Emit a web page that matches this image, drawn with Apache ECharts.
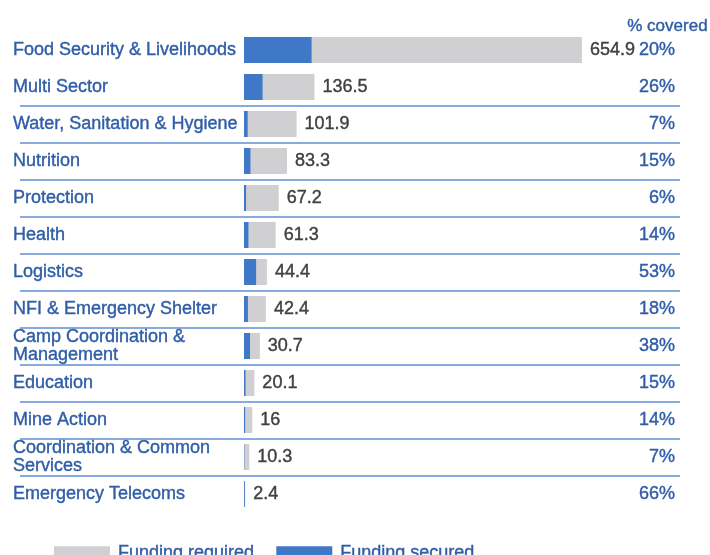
<!DOCTYPE html>
<html>
<head>
<meta charset="utf-8">
<script src="https://cdn.jsdelivr.net/npm/echarts@6/dist/echarts.min.js"></script>
<style>
  html, body { margin: 0; padding: 0; background: #fff; }
  #chart { width: 710px; height: 555px; }
</style>
</head>
<body>
<div id="chart"></div>
<script>
// data
const sectors = [
  "Food Security & Livelihoods",
  "Multi Sector",
  "Water, Sanitation & Hygiene",
  "Nutrition",
  "Protection",
  "Health",
  "Logistics",
  "NFI & Emergency Shelter",
  "Camp Coordination &\nManagement",
  "Education",
  "Mine Action",
  "Coordination & Common\nServices",
  "Emergency Telecoms"
];
const fundingRequired = [654.9, 136.5, 101.9, 83.3, 67.2, 61.3, 44.4, 42.4, 30.7, 20.1, 16, 10.3, 2.4];
const fundingSecured = [131, 36, 7.1, 12.5, 4, 8.6, 23.5, 7.6, 11.7, 3, 2.2, 0.7, 1.6];
const pctCovered = ["20%", "26%", "7%", "15%", "6%", "14%", "53%", "18%", "38%", "15%", "14%", "7%", "66%"];

const chart = echarts.init(document.getElementById("chart"));

const font = "'Liberation Sans', Arial, sans-serif";
const labelBlue = "#2f5da8";
const grey = "#d0d0d2";
const blue = "#4078c8";
const lineBlue = "#5f8fd2";
const none = "rgba(0,0,0,0)";

// separators: none above first row, none between first two rows, none at bottom
const sepColors = [none, none];
for (let i = 2; i < sectors.length; i++) sepColors.push(lineBlue);
sepColors.push(none);

// slightly heavier text, like the original render
const heavy = (c) => ({ textBorderColor: c, textBorderWidth: 0.4 });

const option = {
  textStyle: { fontFamily: font },
  title: {
    text: "% covered",
    right: -3,
    top: 13,
    textStyle: { fontFamily: font, fontSize: 17, fontWeight: "normal", color: labelBlue, ...heavy(labelBlue) }
  },
  legend: {
    data: ["Funding required", "Funding secured"],
    left: 49,
    top: 539,
    itemWidth: 56,
    itemHeight: 14,
    itemGap: 22,
    icon: "rect",
    textStyle: { fontFamily: font, fontSize: 18, color: labelBlue, padding: [0, 0, 0, 3], ...heavy(labelBlue) }
  },
  grid: [
    { left: 244, right: 30, top: 31.5, bottom: 42.5 },
    { left: 20, right: 30, top: 31.5, bottom: 42.5 }
  ],
  xAxis: [
    { type: "value", gridIndex: 0, min: 0, max: 845, show: false },
    { type: "value", gridIndex: 1, min: 0, max: 1, show: false }
  ],
  yAxis: [
    {
      type: "category",
      gridIndex: 0,
      data: sectors,
      inverse: true,
      axisLine: { show: false },
      axisTick: { show: false },
      splitLine: { show: false },
      axisLabel: {
        align: "left",
        margin: 231,
        fontFamily: font,
        fontSize: 18,
        lineHeight: 18,
        color: labelBlue,
        ...heavy(labelBlue)
      }
    },
    {
      type: "category",
      gridIndex: 1,
      data: sectors,
      inverse: true,
      axisLine: { show: false },
      axisTick: { show: false },
      axisLabel: { show: false },
      splitLine: { show: true, lineStyle: { color: sepColors, width: 1.5 } }
    },
    {
      type: "category",
      gridIndex: 1,
      position: "right",
      data: pctCovered,
      inverse: true,
      axisLine: { show: false },
      axisTick: { show: false },
      splitLine: { show: false },
      axisLabel: {
        inside: true,
        align: "right",
        margin: 5,
        fontFamily: font,
        fontSize: 18,
        color: labelBlue,
        ...heavy(labelBlue)
      }
    }
  ],
  series: [
    {
      name: "Funding required",
      type: "bar",
      xAxisIndex: 0,
      yAxisIndex: 0,
      data: fundingRequired,
      barWidth: 26,
      itemStyle: { color: grey },
      label: {
        show: true,
        position: "right",
        distance: 8,
        fontFamily: font,
        fontSize: 18,
        color: "#404040",
        ...heavy("#404040")
      }
    },
    {
      name: "Funding secured",
      type: "bar",
      xAxisIndex: 0,
      yAxisIndex: 0,
      data: fundingSecured,
      barWidth: 26,
      barGap: "-100%",
      itemStyle: { color: blue }
    }
  ]
};

chart.setOption(option);
</script>
</body>
</html>
